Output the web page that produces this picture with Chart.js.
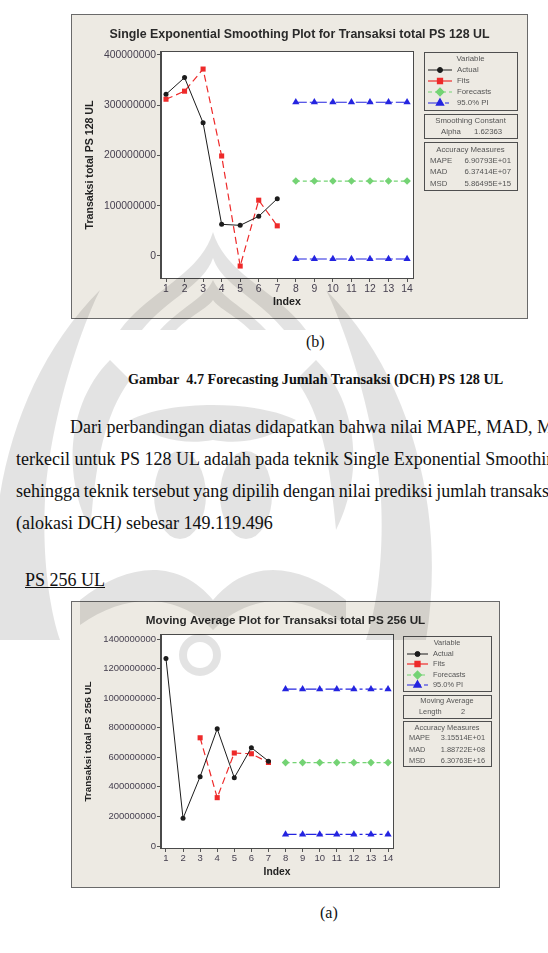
<!DOCTYPE html>
<html>
<head>
<meta charset="utf-8">
<script src="https://cdn.jsdelivr.net/npm/chart.js@4.4.1/dist/chart.umd.min.js"></script>
<style>
	html, body { margin: 0; padding: 0; background: #fff; }
	body { width: 548px; height: 953px; position: relative; overflow: hidden; font-family: "Liberation Serif", "Times New Roman", serif; color: #111; }
	.txt { position: absolute; white-space: nowrap; line-height: 1; }
	canvas { position: absolute; }
	#mark { position: absolute; left: 0; top: 0; pointer-events: none; }
</style>
</head>
<body>
<canvas id="sesChart" width="457" height="305" style="left:71px;top:14px"></canvas>
<div class="txt" style="left:306px;top:334px;font-size:16px">(b)</div>
<div class="txt" style="left:128px;top:372px;font-size:14.2px;font-weight:bold">Gambar&nbsp; 4.7 Forecasting Jumlah Transaksi (DCH) PS 128 UL</div>
<div class="txt" style="left:70px;top:418px;font-size:18px">Dari perbandingan diatas didapatkan bahwa nilai MAPE, MAD, MSD</div>
<div class="txt" style="left:16px;top:450px;font-size:18px">terkecil untuk PS 128 UL adalah pada teknik Single Exponential Smoothing</div>
<div class="txt" style="left:16px;top:482px;font-size:18px;word-spacing:-0.7px">sehingga teknik tersebut yang dipilih dengan nilai prediksi jumlah transaksi</div>
<div class="txt" style="left:16px;top:514px;font-size:18px">(alokasi DCH<i>)</i> sebesar 149.119.496</div>
<div class="txt" style="left:25px;top:571px;font-size:18px;text-decoration:underline">PS 256 UL</div>
<canvas id="maChart" width="429" height="287" style="left:71px;top:601px"></canvas>
<div class="txt" style="left:320px;top:905px;font-size:16px">(a)</div>

<!-- faint university watermark of the scanned page -->
<svg id="mark" width="548" height="953" viewBox="0 0 548 953">
	<g fill="#000" fill-opacity="0.11">
		<path d="M120 330 C150 290 200 275 213 232 C226 275 276 290 306 330 L284 330 C258 298 222 285 213 258 C204 285 168 298 142 330 Z"/>
		<path d="M160 330 C180 308 205 298 213 280 C221 298 246 308 266 330 L250 330 C236 316 218 308 213 300 C208 308 190 316 176 330 Z"/>
		<path d="M0 640 C-20 520 10 380 100 290 C80 330 50 420 45 500 C42 560 50 610 60 640 Z"/>
		<path d="M426 640 C446 520 416 380 326 290 C346 330 376 420 381 500 C384 560 376 610 366 640 Z"/>
		<path d="M110 360 C70 400 60 470 90 530 C95 480 100 420 130 380 Z"/>
		<path d="M316 360 C356 400 366 470 336 530 C331 480 326 420 296 380 Z"/>
		<path d="M130 420 C170 400 256 400 296 420 C270 440 240 445 213 440 C186 445 156 440 130 420 Z"/>
		<ellipse cx="180" cy="495" rx="26" ry="44"/>
		<ellipse cx="246" cy="495" rx="26" ry="44"/>
		<path d="M80 600 C130 560 180 560 213 600 C246 560 296 560 346 600 L346 625 C296 590 246 595 213 630 C180 595 130 590 80 625 Z"/>
	</g>
	<circle cx="200" cy="655" r="17" fill="none" stroke="#000" stroke-opacity="0.11" stroke-width="8"/>
</svg>

<script>
// x index for fitted part and forecast part
const indexFit = [1, 2, 3, 4, 5, 6, 7];
const indexForecast = [8, 9, 10, 11, 12, 13, 14];
const indexTicks = [1, 2, 3, 4, 5, 6, 7, 8, 9, 10, 11, 12, 13, 14];

// PS 128 UL - single exponential smoothing
const actual128 = [321700000, 355000000, 265000000, 63000000, 61000000, 79000000, 114000000];
const fits128 = [312000000, 328000000, 372000000, 199000000, -20000000, 111000000, 60000000];
const forecast128 = [149119496, 149119496, 149119496, 149119496, 149119496, 149119496, 149119496];
const upper128 = [306000000, 306000000, 306000000, 306000000, 306000000, 306000000, 306000000];
const lower128 = [-6000000, -6000000, -6000000, -6000000, -6000000, -6000000, -6000000];
const yTicks128 = [0, 100000000, 200000000, 300000000, 400000000];

// PS 256 UL - moving average
const actual256 = [1269000000, 187000000, 469000000, 793000000, 462000000, 665000000, 574000000];
const fits256 = [null, null, 732000000, 327000000, 629000000, 624000000, 565000000];
const forecast256 = [564000000, 564000000, 564000000, 564000000, 564000000, 564000000, 564000000];
const upper256 = [1061000000, 1061000000, 1061000000, 1061000000, 1061000000, 1061000000, 1061000000];
const lower256 = [79000000, 79000000, 79000000, 79000000, 79000000, 79000000, 79000000];
const yTicks256 = [0, 200000000, 400000000, 600000000, 800000000, 1000000000, 1200000000, 1400000000];

const legendNames = ['Actual', 'Fits', 'Forecasts', '95.0% PI'];
const accuracyLabels = ['MAPE', 'MAD', 'MSD'];
const accuracy128 = ['6.90793E+01', '6.37414E+07', '5.86495E+15'];
const accuracy256 = ['3.15514E+01', '1.88722E+08', '6.30763E+16'];

Chart.defaults.font.family = '"Liberation Sans", Arial, sans-serif';
Chart.defaults.animation = false;

function toPoints(xs, ys) {
	return xs.map((x, i) => ({ x: x, y: ys[i] }));
}

// beige frame + white plot area, like minitab graph window
const frameBg = {
	id: 'frameBg',
	beforeDraw(chart) {
		const { ctx, width, height, chartArea: a } = chart;
		ctx.save();
		ctx.fillStyle = '#edeae3';
		ctx.fillRect(0, 0, width, height);
		ctx.strokeStyle = '#6a6a6a';
		ctx.lineWidth = 1;
		ctx.strokeRect(0.5, 0.5, width - 1, height - 1);
		ctx.fillStyle = '#ffffff';
		ctx.fillRect(a.left, a.top, a.right - a.left, a.bottom - a.top);
		ctx.restore();
	},
	afterDraw(chart) {
		const { ctx, chartArea: a } = chart;
		ctx.save();
		ctx.strokeStyle = '#4a4a4a';
		ctx.lineWidth = 1;
		ctx.strokeRect(Math.round(a.left) - 0.5, Math.round(a.top) - 0.5, Math.round(a.right - a.left) + 1, Math.round(a.bottom - a.top) + 1);
		ctx.restore();
	}
};

// legend + info boxes on the right side
const sideBoxes = {
	id: 'sideBoxes',
	afterDraw(chart, args, opt) {
		const ctx = chart.ctx;
		ctx.save();
		ctx.strokeStyle = '#4f4f4f';
		ctx.lineWidth = 1;
		opt.boxes.forEach(b => ctx.strokeRect(opt.x + 0.5, b.y + 0.5, opt.w, b.h));

		ctx.font = opt.fontSize + 'px "Liberation Sans", Arial, sans-serif';
		ctx.textBaseline = 'middle';
		ctx.fillStyle = '#555';
		ctx.textAlign = 'center';
		const cx = opt.x + opt.w / 2;
		ctx.fillText('Variable', cx, opt.legend.titleY);

		// legend rows from the datasets
		chart.data.datasets.slice(0, 4).forEach((ds, i) => {
			const y = opt.legend.rowY[i];
			ctx.save();
			ctx.strokeStyle = ds.borderColor;
			ctx.fillStyle = ds.backgroundColor;
			ctx.lineWidth = ds.borderWidth;
			ctx.setLineDash(ds.legendDash || []);
			ctx.beginPath();
			ctx.moveTo(opt.legend.lineX[0], y);
			ctx.lineTo(opt.legend.lineX[1], y);
			ctx.stroke();
			ctx.setLineDash([]);
			Chart.helpers.drawPoint(ctx, {
				pointStyle: ds.pointStyle,
				radius: ds.pointRadius,
				rotation: 0,
				borderWidth: 1
			}, (opt.legend.lineX[0] + opt.legend.lineX[1]) / 2, y);
			ctx.restore();
			ctx.textAlign = 'left';
			ctx.fillText(legendNames[i], opt.legend.textX, y);
		});

		// info box (smoothing constant / moving average length)
		ctx.textAlign = 'center';
		ctx.fillText(opt.info.title, cx, opt.info.titleY);
		ctx.textAlign = 'left';
		ctx.fillText(opt.info.label, opt.info.labelX, opt.info.rowY);
		ctx.fillText(opt.info.value, opt.info.valueX, opt.info.rowY);

		// accuracy measures
		ctx.textAlign = 'center';
		ctx.fillText('Accuracy Measures', cx, opt.acc.titleY);
		accuracyLabels.forEach((lab, i) => {
			ctx.textAlign = 'left';
			ctx.fillText(lab, opt.acc.labelX, opt.acc.rowY[i]);
			ctx.textAlign = 'right';
			ctx.fillText(opt.acc.values[i], opt.acc.valueX, opt.acc.rowY[i]);
		});
		ctx.restore();
	}
};

function makeDatasets(actual, fits, forecast, upper, lower) {
	const blue = '#2424e0';
	return [
		{ label: 'Actual', data: toPoints(indexFit, actual), borderColor: '#1c1c1c', backgroundColor: '#1c1c1c',
			borderWidth: 1, pointStyle: 'circle', pointRadius: 2.5, pointBorderWidth: 0 },
		{ label: 'Fits', data: toPoints(indexFit, fits), borderColor: '#ee2a2a', backgroundColor: '#ee2a2a',
			borderWidth: 1.2, borderDash: [7, 4], pointStyle: 'rect', pointRadius: 3.6, pointBorderWidth: 0 },
		{ label: 'Forecasts', data: toPoints(indexForecast, forecast), borderColor: '#74d374', backgroundColor: '#74d374',
			borderWidth: 1.2, borderDash: [4, 3], legendDash: [4, 3], pointStyle: 'rectRot', pointRadius: 3.8, pointBorderWidth: 0 },
		{ label: '95.0% PI', data: toPoints(indexForecast, upper), borderColor: blue, backgroundColor: blue,
			borderWidth: 1.2, borderDash: [11, 3, 3, 3], legendDash: [14, 3, 4, 3], pointStyle: 'triangle', pointRadius: 4.2, pointBorderWidth: 0 },
		{ label: 'lower', data: toPoints(indexForecast, lower), borderColor: blue, backgroundColor: blue,
			borderWidth: 1.2, borderDash: [11, 3, 3, 3], pointStyle: 'triangle', pointRadius: 4.2, pointBorderWidth: 0 }
	];
}

function makeForecastChart(id, cfg) {
	return new Chart(document.getElementById(id), {
		type: 'line',
		data: { datasets: cfg.datasets },
		options: {
			responsive: false,
			spanGaps: false,
			layout: { padding: 0 },
			scales: {
				x: {
					type: 'linear',
					min: cfg.xMin,
					max: cfg.xMax,
					afterBuildTicks: s => { s.ticks = indexTicks.map(v => ({ value: v })); },
					afterFit: s => { s.height = cfg.xHeight; },
					grid: { drawOnChartArea: false, tickLength: 4, color: '#555' },
					border: { color: '#4a4a4a' },
					ticks: { padding: 1, autoSkip: false, maxRotation: 0, color: '#453f4f', font: { size: cfg.tickSize } },
					title: { display: true, text: 'Index', color: '#222', font: { size: cfg.xTitleSize, weight: 'bold' }, padding: { top: 0, bottom: cfg.xTitlePad } }
				},
				y: {
					min: cfg.yMin,
					max: cfg.yMax,
					afterBuildTicks: s => { s.ticks = cfg.yTicks.map(v => ({ value: v })); },
					afterFit: s => { s.width = 90; },
					grid: { drawOnChartArea: false, tickLength: 4, color: '#555' },
					border: { color: '#4a4a4a' },
					ticks: { padding: 1, color: '#453f4f', font: { size: cfg.tickSize }, callback: v => String(v) },
					title: { display: true, text: cfg.yTitle, color: '#222', font: { size: cfg.yTitleSize, weight: 'bold' }, padding: { top: cfg.yTitlePad, bottom: 0 } }
				},
				// empty right strip where the legend boxes sit
				side: {
					type: 'linear',
					position: 'right',
					afterFit: s => { s.width = cfg.sideWidth; },
					ticks: { display: false },
					grid: { display: false },
					border: { display: false }
				}
			},
			plugins: {
				legend: { display: false },
				tooltip: { enabled: false },
				title: {
					display: true,
					text: cfg.title,
					color: '#2a2a2a',
					font: { size: cfg.titleSize, weight: 'bold' },
					padding: { top: cfg.titlePad[0], bottom: cfg.titlePad[1] }
				},
				sideBoxes: cfg.boxes
			}
		},
		plugins: [frameBg, sideBoxes]
	});
}

makeForecastChart('sesChart', {
	datasets: makeDatasets(actual128, fits128, forecast128, upper128, lower128),
	title: 'Single Exponential Smoothing Plot for Transaksi total PS 128 UL',
	titleSize: 12.4, titlePad: [13.6, 9.5],
	yTitle: 'Transaksi total PS 128 UL', yTitleSize: 10.6, yTitlePad: 12.6,
	xTitleSize: 10.7, xTitlePad: 10.6, xHeight: 41,
	tickSize: 10.4, sideWidth: 115,
	xMin: 0.73, xMax: 14.32, yMin: -43800000, yMax: 406000000, yTicks: yTicks128,
	boxes: {
		x: 353, w: 93, fontSize: 7.8,
		boxes: [{ y: 38, h: 58 }, { y: 100, h: 24 }, { y: 128, h: 48 }],
		legend: { titleY: 45, rowY: [56, 67, 78, 89], lineX: [357, 381], textX: 386 },
		info: { title: 'Smoothing Constant', titleY: 107, rowY: 118, label: 'Alpha', labelX: 370, value: '1.62363', valueX: 403 },
		acc: { titleY: 136, rowY: [147, 158, 170], labelX: 359, valueX: 440, values: accuracy128 }
	}
});

makeForecastChart('maChart', {
	datasets: makeDatasets(actual256, fits256, forecast256, upper256, lower256),
	title: 'Moving Average Plot for Transaksi total PS 256 UL',
	titleSize: 11.7, titlePad: [13, 7],
	yTitle: 'Transaksi total PS 256 UL', yTitleSize: 9.9, yTitlePad: 11,
	xTitleSize: 10.3, xTitlePad: 9.8, xHeight: 40,
	tickSize: 9.5, sideWidth: 107,
	xMin: 0.71, xMax: 14.29, yMin: -13500000, yMax: 1427000000, yTicks: yTicks256,
	boxes: {
		x: 332, w: 88, fontSize: 7.4,
		boxes: [{ y: 35, h: 55 }, { y: 94, h: 23 }, { y: 120, h: 45 }],
		legend: { titleY: 42, rowY: [53, 63, 74, 84], lineX: [336, 357], textX: 362 },
		info: { title: 'Moving Average', titleY: 100, rowY: 111, label: 'Length', labelX: 348, value: '2', valueX: 390 },
		acc: { titleY: 127, rowY: [137, 149, 160], labelX: 338, valueX: 414, values: accuracy256 }
	}
});
</script>
</body>
</html>
